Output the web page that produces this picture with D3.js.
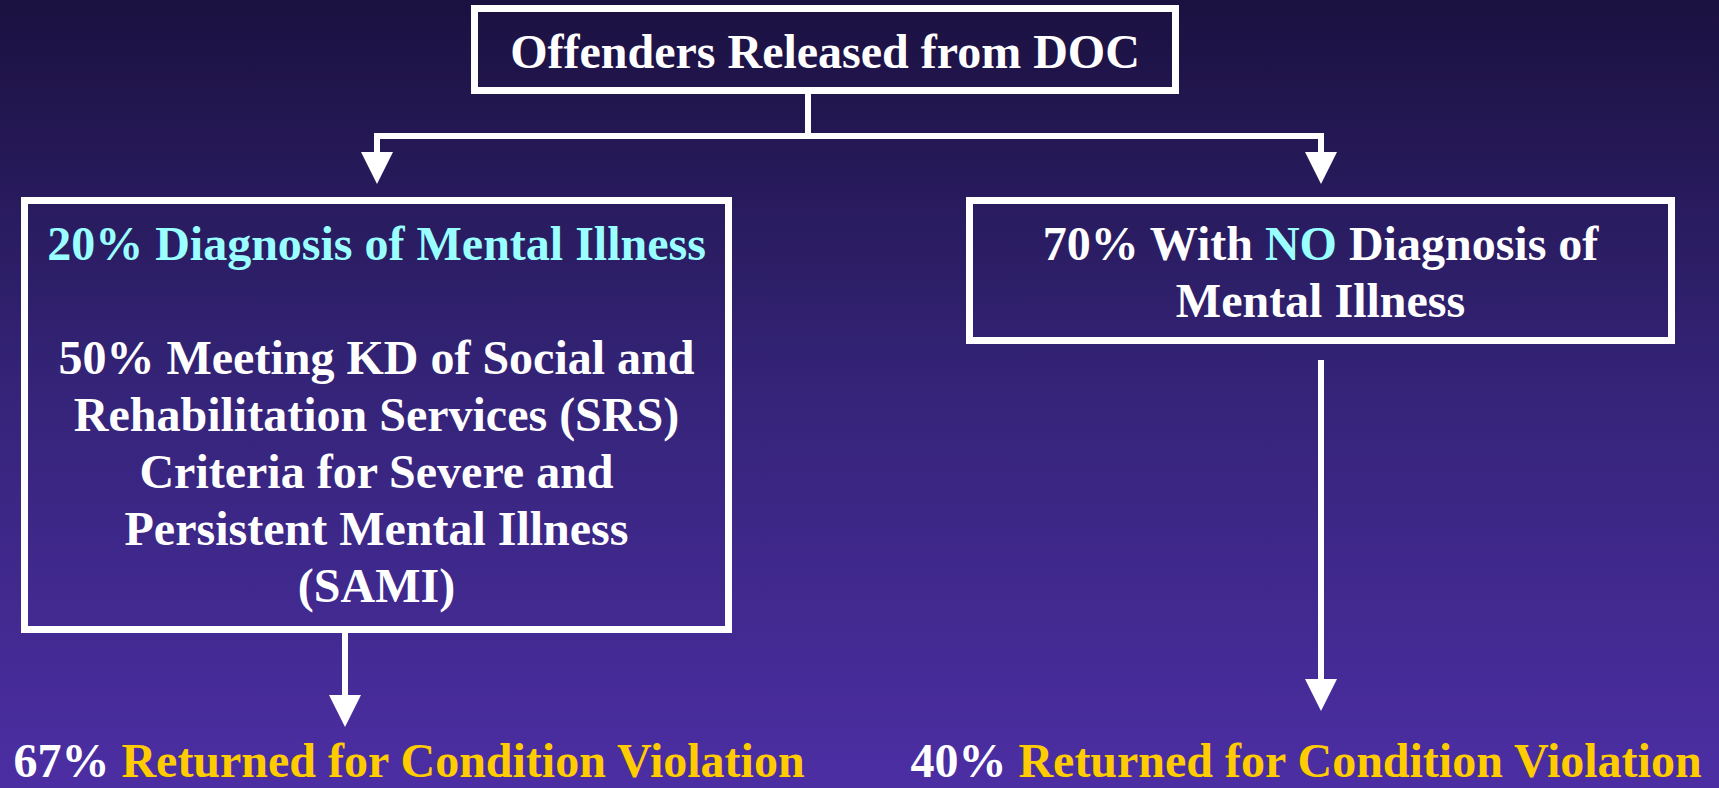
<!DOCTYPE html>
<html>
  <head>
    <title>Offenders Released from DOC</title>
    <script src="https://d3js.org/d3.v7.min.js"></script>
    <style>
      html, body { margin: 0; padding: 0; overflow: hidden; }
      text { font-family: "Liberation Serif", "Times New Roman", serif; font-weight: bold; }
    </style>
  </head>
  <body>
    <svg id="chart" width="1719" height="788"></svg>

    <script>
      // text content of each box, one entry per line; a line is a list of [text, highlighted]
      var topLines = [
        [["Offenders Released from DOC", false]]
      ];
      var mentalLines = [
        [["20% Diagnosis of Mental Illness", true]],
        [],
        [["50% Meeting KD of Social and", false]],
        [["Rehabilitation Services (SRS)", false]],
        [["Criteria for Severe and", false]],
        [["Persistent Mental Illness", false]],
        [["(SAMI)", false]]
      ];
      var noDiagLines = [
        [["70% With ", false], ["NO", true], [" Diagnosis of", false]],
        [["Mental Illness", false]]
      ];
      var returnPct = ["67%", "40%"];
      var returnLabel = "Returned for Condition Violation";

      var W = 1719, H = 788;
      var svg = d3.select("#chart");

      var defs = svg.append("defs");
      var grad = defs.append("linearGradient")
          .attr("id", "bg").attr("x1", 0).attr("y1", 0).attr("x2", 0).attr("y2", 1);
      grad.append("stop").attr("offset", "0%").attr("stop-color", "#1b1140");
      grad.append("stop").attr("offset", "50%").attr("stop-color", "#352479");
      grad.append("stop").attr("offset", "100%").attr("stop-color", "#4c2ea3");

      svg.append("rect").attr("width", W).attr("height", H).attr("fill", "url(#bg)");

      var white = "#ffffff", cyan = "#99ffff", yellow = "#ffcc00";
      var lineH = 57;

      function box(x0, y0, x1, y1, lines, firstBaseline) {
        var g = svg.append("g");
        g.append("rect")
          .attr("x", x0 + 3.5).attr("y", y0 + 3.5)
          .attr("width", x1 - x0 - 7).attr("height", y1 - y0 - 7)
          .attr("fill", "none").attr("stroke", white).attr("stroke-width", 7);
        var cx = (x0 + x1) / 2;
        lines.forEach(function(parts, i) {
          if (!parts.length) return;
          var t = g.append("text")
            .attr("x", cx).attr("y", firstBaseline + i * lineH)
            .attr("text-anchor", "middle")
            .attr("font-size", 48);
          t.selectAll("tspan").data(parts).enter().append("tspan")
            .attr("fill", d => d[1] ? cyan : white)
            .style("white-space", "pre")
            .text(d => d[0]);
        });
      }

      box(471, 5, 1179, 94, topLines, 68);
      box(21, 197, 732, 633, mentalLines, 260);
      box(966, 197, 1675, 344, noDiagLines, 260);

      // connectors
      function arrowHead(x, yTop, yTip) {
        svg.append("path")
          .attr("d", d3.line()([[x - 16, yTop], [x + 16, yTop], [x, yTip]]) + "Z")
          .attr("fill", white);
      }
      var conn = d3.path();
      conn.moveTo(808, 94); conn.lineTo(808, 136);
      conn.moveTo(377, 154); conn.lineTo(377, 136); conn.lineTo(1321, 136); conn.lineTo(1321, 154);
      conn.moveTo(345, 633); conn.lineTo(345, 697);
      conn.moveTo(1321, 360); conn.lineTo(1321, 681);
      svg.append("path").attr("d", conn.toString())
        .attr("fill", "none").attr("stroke", white).attr("stroke-width", 6)
        .attr("stroke-linejoin", "miter").attr("stroke-linecap", "butt");

      arrowHead(377, 152, 184);
      arrowHead(1321, 152, 184);
      arrowHead(345, 695, 727);
      arrowHead(1321, 679, 711);

      // bottom outcomes
      var outX = [409, 1306];
      returnPct.forEach(function(p, i) {
        var t = svg.append("text")
          .attr("x", outX[i]).attr("y", 777)
          .attr("text-anchor", "middle").attr("font-size", 48);
        t.append("tspan").attr("fill", white).text(p + " ");
        t.append("tspan").attr("fill", yellow).text(returnLabel);
      });
    </script>
  </body>
</html>
